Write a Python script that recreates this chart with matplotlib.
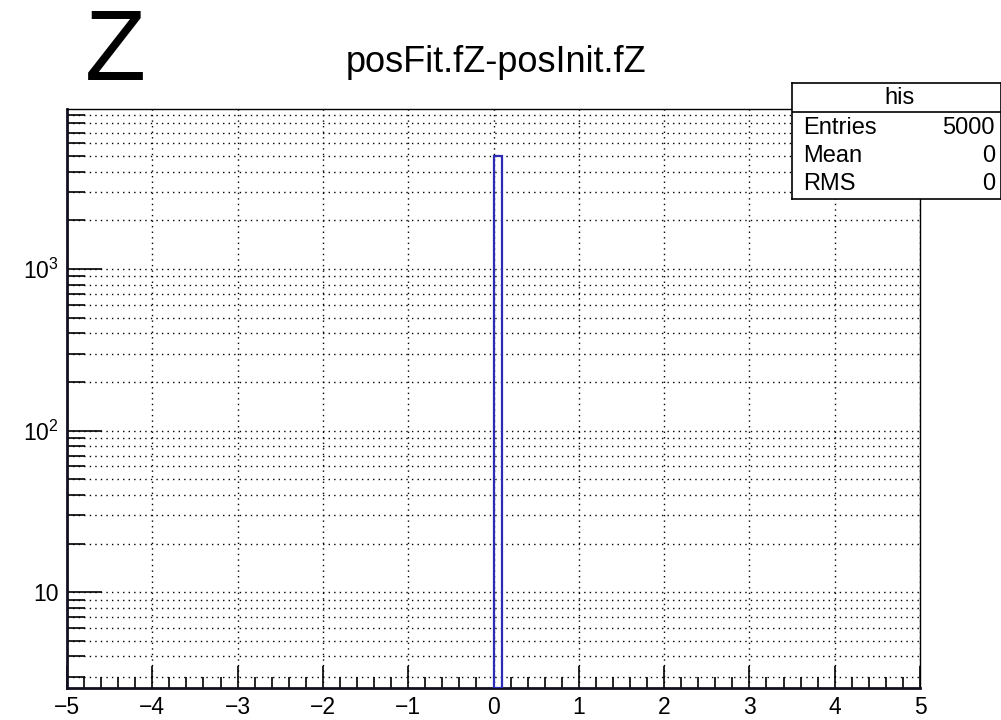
import numpy as np
import matplotlib
matplotlib.use("Agg")
import matplotlib.pyplot as plt
from matplotlib.ticker import LogLocator, FixedLocator, MultipleLocator, FuncFormatter

plt.rcParams['font.family'] = ['Liberation Sans', 'DejaVu Sans']
plt.rcParams['mathtext.fontset'] = 'custom'
plt.rcParams['mathtext.rm'] = 'Liberation Sans'
plt.rcParams['mathtext.it'] = 'Liberation Sans'

# histogram content: only non-empty bin (100 bins from -5 to 5)
bin_lo = [0.0]
bin_hi = [0.1]
counts = [5000]
x_range = [-5, 5]
y_range = [2.55, 9800]
stats_name = "his"
stats_rows = [("Entries", "5000"), ("Mean", "0"), ("RMS", "0")]

W, H = 1001, 720
fig = plt.figure(figsize=(W / 100, H / 100), dpi=100)
ax = fig.add_axes([67 / W, (H - 688) / H, (920 - 67) / W, (688 - 109) / H])

widths = [h - l for l, h in zip(bin_lo, bin_hi)]
ax.set_yscale('log')
ax.bar(bin_lo, counts, width=widths, align='edge', bottom=y_range[0],
       fill=False, edgecolor='#2b2bb5', linewidth=1.6, zorder=3)

ax.set_xlim(*x_range)
ax.set_ylim(*y_range)

# ticks ROOT style: inward
ax.xaxis.set_major_locator(MultipleLocator(1))
ax.xaxis.set_minor_locator(MultipleLocator(0.2))
ax.yaxis.set_major_locator(FixedLocator([10, 100, 1000]))
ax.yaxis.set_minor_locator(LogLocator(base=10, subs=np.arange(2, 10), numticks=20))

def ylab(v, pos):
    if v == 10:
        return "10"
    return r"$10^{%d}$" % int(round(np.log10(v)))

ax.yaxis.set_major_formatter(FuncFormatter(ylab))
ax.xaxis.set_major_formatter(FuncFormatter(lambda v, p: ("%d" % v).replace("-", "\u2212")))

ax.tick_params(axis='x', which='major', direction='in', length=16, width=1.2,
               labelsize=16.5, pad=6, top=False)
ax.tick_params(axis='x', which='minor', direction='in', length=8, width=1.2, top=False)
ax.tick_params(axis='y', which='major', direction='in', length=25, width=1.2,
               labelsize=16.5, pad=6, right=False)
ax.tick_params(axis='y', which='minor', direction='in', length=13, width=1.2, right=False)

dots = (0, (1, 3))
ax.grid(True, axis='y', which='both', linestyle=dots, color='black', linewidth=1.0)
ax.grid(True, axis='x', which='major', linestyle=dots, color='black', linewidth=1.0)

for s in ['left', 'bottom']:
    ax.spines[s].set_linewidth(2.0)
    ax.spines[s].set_color('#101020')
for s in ['top', 'right']:
    ax.spines[s].set_linewidth(1.0)

# titles
fig.text(115 / W, 1 - 80 / H, "Z", fontsize=72, ha='center', va='baseline')
fig.text(496 / W, 1 - 62 / H, "posFit.fZ-posInit.fZ", fontsize=26, ha='center', va='center')

# stats box
bx0, by0, bx1, by1 = 792, 83, 1001, 199
box = fig.add_axes([bx0 / W, (H - by1) / H, (bx1 - bx0) / W, (by1 - by0) / H])
box.set_xlim(0, bx1 - bx0)
box.set_ylim(by1, by0)
box.set_xticks([])
box.set_yticks([])
for s in box.spines.values():
    s.set_linewidth(1.2)
box.axhline(112, color='black', linewidth=1.2)
box.text(900 - bx0, 97.5, stats_name, fontsize=17, ha='center', va='center')
for i, (k, v) in enumerate(stats_rows):
    y = 128 + 28 * i
    box.text(803 - bx0, y, k, fontsize=17, ha='left', va='center')
    box.text(995 - bx0, y, v, fontsize=17, ha='right', va='center')

fig.savefig("out.png", dpi=100)
